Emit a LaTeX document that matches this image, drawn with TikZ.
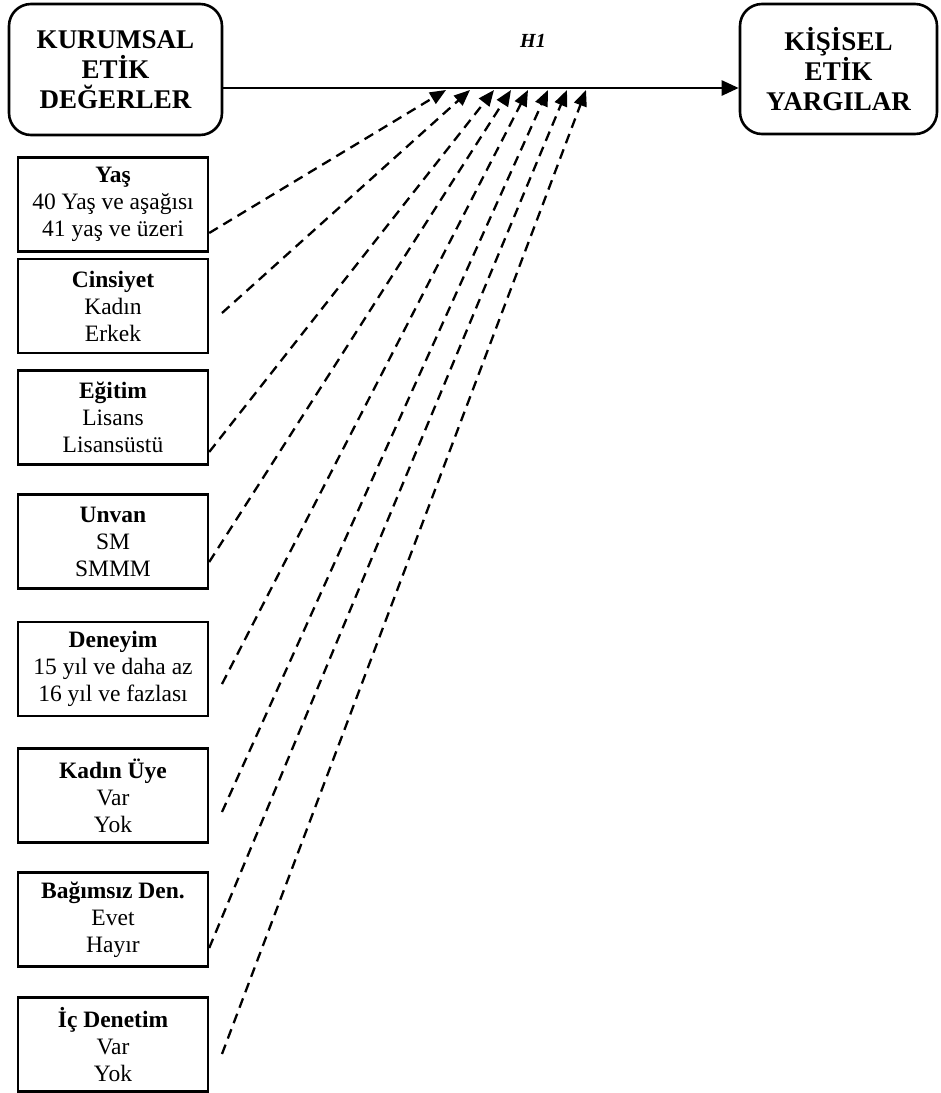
\documentclass[tikz,border=0pt]{standalone}
\usepackage{fontspec}
\setmainfont{Liberation Serif}
\usetikzlibrary{arrows.meta}
\begin{document}
\begin{tikzpicture}[x=1pt,y=-1pt,
  bigbox/.style={draw,line width=2.6pt,rounded corners=22pt,align=center,inner sep=0pt,
    font=\bfseries\fontsize{27}{30}\selectfont},
  varbox/.style={draw,line width=2.4pt,minimum width=190pt,minimum height=94pt,inner sep=0pt,
    align=center,font=\fontsize{23.5}{27}\selectfont},
  mainarrow/.style={line width=2.6pt,-{Triangle[length=17pt,width=15pt]}},
  modarrow/.style={line width=2.3pt,dash pattern=on 10pt off 6.5pt,-{Triangle[length=16pt,width=13pt]}}]
\useasboundingbox (0,0) rectangle (941,1093);

\node[bigbox,minimum width=213pt,minimum height=131pt] (kur) at (115.5,69.5) {KURUMSAL\\ETİK\\DEĞERLER};
\node[bigbox,minimum width=197pt,minimum height=130pt] (kis) at (838.5,69) {KİŞİSEL\\ETİK\\YARGILAR};
\node[font=\bfseries\itshape\fontsize{20}{20}\selectfont] (h1) at (533,41) {H1};

\coordinate (m) at (0,88);
\draw[mainarrow] (kur.east |- m) -- (kis.west |- m);

\node[varbox] (yas) at (113,204.5) {\textbf{Yaş}\\40 Yaş ve aşağısı\\41 yaş ve üzeri};
\node[varbox] (cin) at (113,306) {\textbf{Cinsiyet}\\Kadın\\Erkek};
\node[varbox] (egi) at (113,417.5) {\textbf{Eğitim}\\Lisans\\Lisansüstü};
\node[varbox] (unv) at (113,541.5) {\textbf{Unvan}\\SM\\SMMM};
\node[varbox] (den) at (113,669) {\textbf{Deneyim}\\15 yıl ve daha az\\16 yıl ve fazlası};
\node[varbox] (kad) at (113,795.5) {\textbf{Kadın Üye}\\Var\\Yok};
\node[varbox] (bag) at (113,919.5) {\textbf{Bağımsız Den.}\\Evet\\Hayır};
\node[varbox] (icd) at (113,1044.5) {\textbf{İç Denetim}\\Var\\Yok};

\coordinate (t1) at (446,90);
\coordinate (t2) at (470,90);
\coordinate (t3) at (494,90);
\coordinate (t4) at (511,90);
\coordinate (t5) at (528,90);
\coordinate (t6) at (548,90);
\coordinate (t7) at (567,90);
\coordinate (t8) at (586,90);

\coordinate (s2) at (222,313);
\coordinate (s5) at (222,684);
\coordinate (s6) at (222,812);
\coordinate (s8) at (222,1054);

\draw[modarrow] (yas.east |- 0,233) -- (t1);
\draw[modarrow] (s2) -- (t2);
\draw[modarrow] (egi.east |- 0,452) -- (t3);
\draw[modarrow] (unv.east |- 0,562) -- (t4);
\draw[modarrow] (s5) -- (t5);
\draw[modarrow] (s6) -- (t6);
\draw[modarrow] (bag.east |- 0,948) -- (t7);
\draw[modarrow] (s8) -- (t8);
\end{tikzpicture}
\end{document}
